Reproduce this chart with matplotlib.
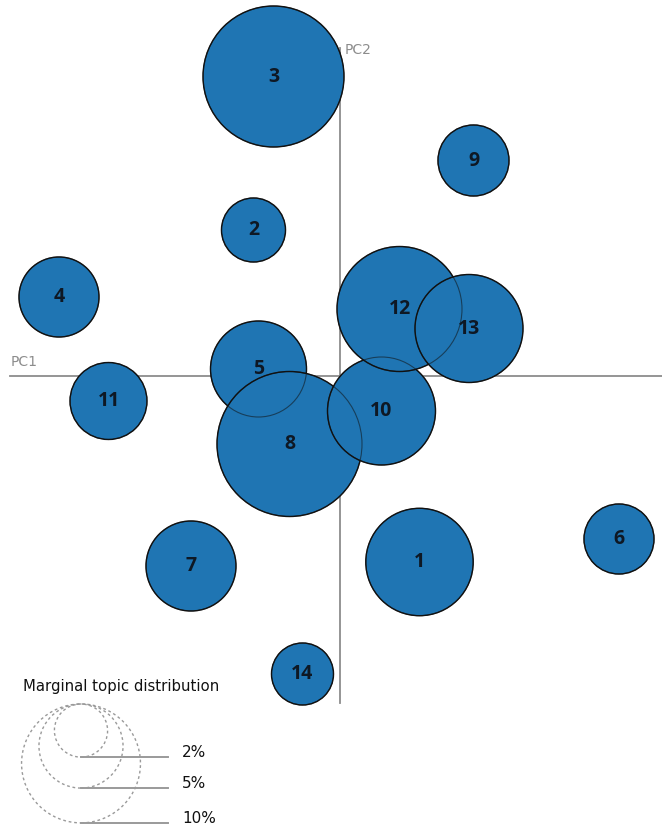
import matplotlib
matplotlib.use("Agg")
import matplotlib.pyplot as plt
from matplotlib.patches import Circle
import numpy as np

# ---- data ----
topics = [1, 2, 3, 4, 5, 6, 7, 8, 9, 10, 11, 12, 13, 14]
pc1 = [0.080, -0.086, -0.066, -0.2805, -0.081, 0.2795, -0.1485, -0.050,
       0.134, 0.042, -0.231, 0.060, 0.1295, -0.037]
pc2 = [-0.186, 0.146, 0.2995, 0.079, 0.007, -0.163, -0.190, -0.068,
       0.2155, -0.035, -0.025, 0.067, 0.0475, -0.298]
marginal_pct = [8.16, 2.90, 14.06, 4.53, 6.52, 3.47, 5.73, 14.87,
                3.57, 8.25, 4.19, 11.05, 8.25, 2.72]
legend_pct = [2, 5, 10]
legend_labels = ["2%", "5%", "10%"]

# radius scale (data units per sqrt(percent))
RSCALE = 0.0188

fig = plt.figure(figsize=(6.62, 8.26), dpi=100)
ax = fig.add_axes([0, 0, 1, 1])
ax.set_xlim(-0.3395, 0.3225)
ax.set_ylim(-0.450, 0.376)
ax.set_aspect("equal")
ax.axis("off")

axis_col = "#8c8c8c"
# PC axes
ax.plot([-0.3295, 0.3225], [0.0, 0.0], color=axis_col, lw=1.3, zorder=1)
ax.plot([0.0, 0.0], [0.328, -0.327], color=axis_col, lw=1.3, zorder=1)
ax.text(-0.3285, 0.0065, "PC1", color=axis_col, fontsize=10, ha="left", va="bottom")
ax.text(0.0055, 0.326, "PC2", color=axis_col, fontsize=10, ha="left", va="center")

fill_col = "#1f75b3"
radii = [RSCALE * np.sqrt(p) for p in marginal_pct]
# fills with outline
for x, y, r in zip(pc1, pc2, radii):
    ax.add_patch(Circle((x, y), r, facecolor=fill_col, edgecolor="#111111",
                        lw=1.0, zorder=2))
# outlines visible through overlaps
for x, y, r in zip(pc1, pc2, radii):
    ax.add_patch(Circle((x, y), r, facecolor="none", edgecolor="#111111",
                        lw=0.8, alpha=0.55, zorder=3))
for t, x, y in zip(topics, pc1, pc2):
    ax.text(x, y, str(t), ha="center", va="center", fontsize=14,
            fontweight="bold", family=["Open Sans", "DejaVu Sans"],
            color="#0e1824", zorder=4)

# ---- legend: marginal topic distribution ----
lx = -0.2585
ltop = -0.328
ax.text(-0.3165, -0.311, "Marginal topic distribution", fontsize=10.7,
        ha="left", va="center", color="#111111")
for p, lab in zip(legend_pct, legend_labels):
    r = RSCALE * np.sqrt(p)
    cy = ltop - r
    ax.add_patch(Circle((lx, cy), r, facecolor="none", edgecolor="#9a9a9a",
                        lw=1.0, linestyle=(0, (2, 2)), zorder=2))
    ax.plot([lx, -0.1715], [cy - r, cy - r], color="#9a9a9a", lw=1.4, zorder=2)
    ax.text(-0.1575, cy - r, lab, fontsize=11, ha="left", va="baseline",
            color="#111111")

fig.savefig("out.png", dpi=100)
